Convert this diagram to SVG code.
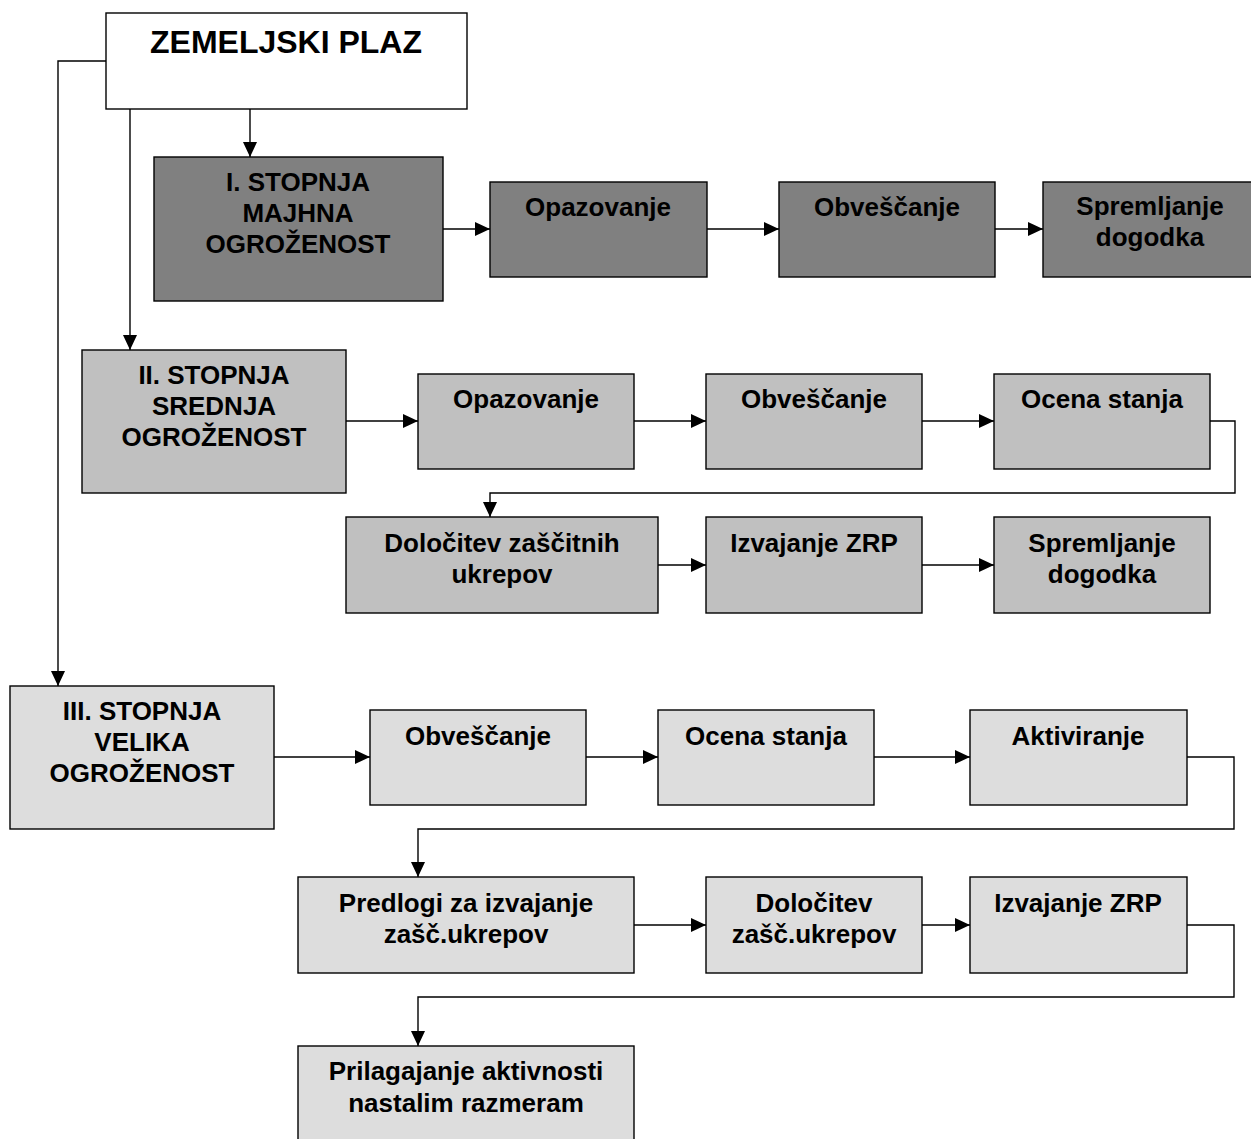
<svg xmlns="http://www.w3.org/2000/svg" width="1251" height="1139" viewBox="0 0 1251 1139">
<defs>
<marker id="ah" markerUnits="userSpaceOnUse" markerWidth="15" markerHeight="14" refX="15" refY="7" orient="auto">
<path d="M0,0 L15,7 L0,14 z" fill="#000"/>
</marker>
<style>
.n rect{stroke:#000;stroke-width:1.4}
.w{fill:#fff}
.d{fill:#808080}
.m{fill:#c0c0c0}
.l{fill:#dddddd}
text{font-family:"Liberation Sans",Arial,sans-serif;font-weight:bold;font-size:26px;fill:#000;text-anchor:middle}
.t{font-size:32px}
#conn path{fill:none;stroke:#000;stroke-width:1.4}
#conn .a{marker-end:url(#ah)}
</style>
</defs>
<g id="conn">
<path d="M106,61 H58 V686" class="a"/>
<path d="M130,109 V350" class="a"/>
<path d="M250,109 V157" class="a"/>
<path d="M443,229 H490" class="a"/>
<path d="M707,229 H779" class="a"/>
<path d="M995,229 H1043" class="a"/>
<path d="M346,421 H418" class="a"/>
<path d="M634,421 H706" class="a"/>
<path d="M922,421 H994" class="a"/>
<path d="M1210,421 H1235 V493 H490 V517" class="a"/>
<path d="M658,565 H706" class="a"/>
<path d="M922,565 H994" class="a"/>
<path d="M274,757 H370" class="a"/>
<path d="M586,757 H658" class="a"/>
<path d="M874,757 H970" class="a"/>
<path d="M1187,757 H1234 V829 H418 V877" class="a"/>
<path d="M634,925 H706" class="a"/>
<path d="M922,925 H970" class="a"/>
<path d="M1187,925 H1234 V997 H418 V1046" class="a"/>
</g>
<g id="root" class="n"><rect class="w" x="106" y="13" width="361" height="96"/><text class="t" x="286" y="53">ZEMELJSKI PLAZ</text></g>
<g id="s1" class="n"><rect class="d" x="154" y="157" width="289" height="144"/><text x="298" y="191">I. STOPNJA</text><text x="298" y="222">MAJHNA</text><text x="298" y="253">OGROŽENOST</text></g>
<g id="s1a" class="n"><rect class="d" x="490" y="182" width="217" height="95"/><text x="598" y="216">Opazovanje</text></g>
<g id="s1b" class="n"><rect class="d" x="779" y="182" width="216" height="95"/><text x="887" y="216">Obveščanje</text></g>
<g id="s1c" class="n"><rect class="d" x="1043" y="182" width="216" height="95"/><text x="1150" y="215">Spremljanje</text><text x="1150" y="246">dogodka</text></g>
<g id="s2" class="n"><rect class="m" x="82" y="350" width="264" height="143"/><text x="214" y="384">II. STOPNJA</text><text x="214" y="415">SREDNJA</text><text x="214" y="446">OGROŽENOST</text></g>
<g id="s2a" class="n"><rect class="m" x="418" y="374" width="216" height="95"/><text x="526" y="408">Opazovanje</text></g>
<g id="s2b" class="n"><rect class="m" x="706" y="374" width="216" height="95"/><text x="814" y="408">Obveščanje</text></g>
<g id="s2c" class="n"><rect class="m" x="994" y="374" width="216" height="95"/><text x="1102" y="408">Ocena stanja</text></g>
<g id="s2d" class="n"><rect class="m" x="346" y="517" width="312" height="96"/><text x="502" y="552">Določitev zaščitnih</text><text x="502" y="583">ukrepov</text></g>
<g id="s2e" class="n"><rect class="m" x="706" y="517" width="216" height="96"/><text x="814" y="552">Izvajanje ZRP</text></g>
<g id="s2f" class="n"><rect class="m" x="994" y="517" width="216" height="96"/><text x="1102" y="552">Spremljanje</text><text x="1102" y="583">dogodka</text></g>
<g id="s3" class="n"><rect class="l" x="10" y="686" width="264" height="143"/><text x="142" y="720">III. STOPNJA</text><text x="142" y="751">VELIKA</text><text x="142" y="782">OGROŽENOST</text></g>
<g id="s3a" class="n"><rect class="l" x="370" y="710" width="216" height="95"/><text x="478" y="745">Obveščanje</text></g>
<g id="s3b" class="n"><rect class="l" x="658" y="710" width="216" height="95"/><text x="766" y="745">Ocena stanja</text></g>
<g id="s3c" class="n"><rect class="l" x="970" y="710" width="217" height="95"/><text x="1078" y="745">Aktiviranje</text></g>
<g id="s3d" class="n"><rect class="l" x="298" y="877" width="336" height="96"/><text x="466" y="912">Predlogi za izvajanje</text><text x="466" y="943">zašč.ukrepov</text></g>
<g id="s3e" class="n"><rect class="l" x="706" y="877" width="216" height="96"/><text x="814" y="912">Določitev</text><text x="814" y="943">zašč.ukrepov</text></g>
<g id="s3f" class="n"><rect class="l" x="970" y="877" width="217" height="96"/><text x="1078" y="912">Izvajanje ZRP</text></g>
<g id="s3g" class="n"><rect class="l" x="298" y="1046" width="336" height="100"/><text x="466" y="1080">Prilagajanje aktivnosti</text><text x="466" y="1112">nastalim razmeram</text></g>
</svg>
